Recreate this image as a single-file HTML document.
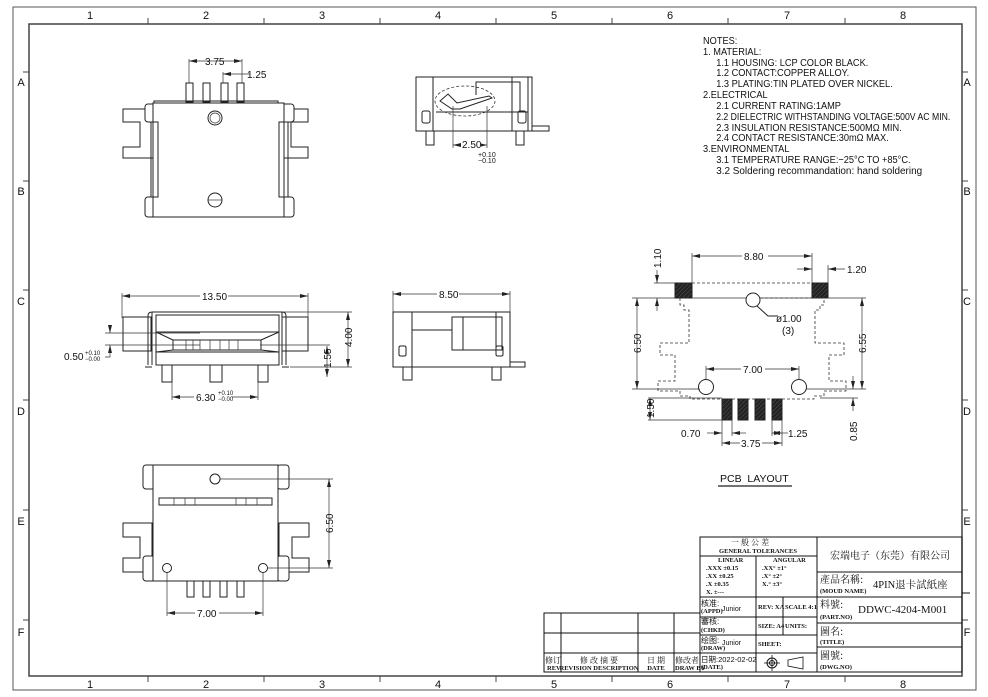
<!DOCTYPE html>
<html><head><meta charset="utf-8"><style>
html,body{margin:0;padding:0;background:#fff}
svg{display:block}
text{font-family:"Liberation Sans","Noto Sans CJK SC",sans-serif;fill:#111}
.s{fill:none;stroke:#222;stroke-width:1}
.t{fill:none;stroke:#333;stroke-width:0.7}
.d{fill:none;stroke:#333;stroke-width:0.8;stroke-dasharray:3 2}
.b{fill:#fff;stroke:#222;stroke-width:1}
.dim{font-size:10px}
.tb{font-family:"Liberation Serif","Noto Serif CJK SC",serif;font-weight:bold;font-size:6.5px}
</style></head><body>
<svg width="988" height="697" viewBox="0 0 988 697" xmlns="http://www.w3.org/2000/svg">
<defs>
<marker id="a" markerWidth="8" markerHeight="6" refX="8" refY="3" orient="auto-start-reverse" markerUnits="userSpaceOnUse"><path d="M0,1 L8,3 L0,5z" fill="#222"/></marker>
<pattern id="h" width="3" height="3" patternUnits="userSpaceOnUse" patternTransform="rotate(45)"><rect width="3" height="3" fill="#222"/><line x1="0" y1="0" x2="0" y2="3" stroke="#555" stroke-width="1"/></pattern>
</defs>
<!-- frames -->
<rect x="13" y="7" width="963" height="683" fill="none" stroke="#555" stroke-width="1"/>
<rect x="29" y="24" width="933" height="652" fill="none" stroke="#444" stroke-width="1.5"/>
<g stroke="#444" stroke-width="1">
<line x1="148" y1="18" x2="148" y2="24"/><line x1="264" y1="18" x2="264" y2="24"/><line x1="380" y1="18" x2="380" y2="24"/><line x1="496" y1="18" x2="496" y2="24"/><line x1="612" y1="18" x2="612" y2="24"/><line x1="728" y1="18" x2="728" y2="24"/><line x1="845" y1="18" x2="845" y2="24"/>
<line x1="148" y1="676" x2="148" y2="682"/><line x1="264" y1="676" x2="264" y2="682"/><line x1="380" y1="676" x2="380" y2="682"/><line x1="496" y1="676" x2="496" y2="682"/><line x1="612" y1="676" x2="612" y2="682"/><line x1="728" y1="676" x2="728" y2="682"/><line x1="845" y1="676" x2="845" y2="682"/>
<line x1="23" y1="72" x2="29" y2="72"/><line x1="23" y1="181" x2="29" y2="181"/><line x1="23" y1="290" x2="29" y2="290"/><line x1="23" y1="400" x2="29" y2="400"/><line x1="23" y1="510" x2="29" y2="510"/><line x1="23" y1="620" x2="29" y2="620"/>
<line x1="962" y1="72" x2="968" y2="72"/><line x1="962" y1="181" x2="968" y2="181"/><line x1="962" y1="290" x2="968" y2="290"/><line x1="962" y1="400" x2="968" y2="400"/><line x1="962" y1="510" x2="968" y2="510"/><line x1="962" y1="620" x2="968" y2="620"/>
</g>
<g font-size="11" text-anchor="middle" style="font-family:'Liberation Serif',serif">
<text x="90" y="19">1</text><text x="206" y="19">2</text><text x="322" y="19">3</text><text x="438" y="19">4</text><text x="554" y="19">5</text><text x="670" y="19">6</text><text x="787" y="19">7</text><text x="903" y="19">8</text>
<text x="90" y="688">1</text><text x="206" y="688">2</text><text x="322" y="688">3</text><text x="438" y="688">4</text><text x="554" y="688">5</text><text x="670" y="688">6</text><text x="787" y="688">7</text><text x="903" y="688">8</text>
<text x="21" y="86">A</text><text x="21" y="195">B</text><text x="21" y="305">C</text><text x="21" y="415">D</text><text x="21" y="525">E</text><text x="21" y="636">F</text>
<text x="967" y="86">A</text><text x="967" y="195">B</text><text x="967" y="305">C</text><text x="967" y="415">D</text><text x="967" y="525">E</text><text x="967" y="636">F</text>
</g>

<!-- View 1 top-left -->
<g>
<rect class="s" x="186" y="83" width="7" height="19"/><rect class="s" x="203" y="83" width="7" height="19"/><rect class="s" x="221" y="83" width="7" height="19"/><rect class="s" x="237" y="83" width="7" height="19"/>
<rect class="s" x="154" y="101" width="124" height="3"/>
<polygon class="s" points="158,109 123,109 123,122 140,122 140,147 123,147 123,158 158,158"/>
<polygon class="s" points="282,109 308,109 308,122 291,122 291,147 308,147 308,158 282,158"/>
<rect class="b" x="145" y="104" width="13" height="18" rx="3"/><rect class="b" x="145" y="197" width="13" height="20" rx="3"/>
<rect class="b" x="281" y="104" width="13" height="18" rx="3"/><rect class="b" x="281" y="197" width="13" height="20" rx="3"/>
<path class="s" d="M151,122 V197 M288,122 V197"/>
<rect class="b" x="153" y="103" width="131" height="114"/>
<path class="s" d="M153,122 H158 V197 H153 M284,122 H279 V197 H284"/>
<circle class="s" cx="215" cy="118" r="7" stroke-width="2"/><circle class="t" cx="215" cy="118" r="5"/>
<circle class="s" cx="215" cy="200" r="7"/><line class="t" x1="208" y1="200" x2="222" y2="200"/>
<path class="t" d="M189,83 V59 M242,83 V59 M223,83 V72"/>
<line class="t" x1="189" y1="61" x2="242" y2="61" marker-start="url(#a)" marker-end="url(#a)"/>
<line class="t" x1="223" y1="74" x2="250" y2="74" marker-start="url(#a)"/>
<text class="dim" x="205" y="65">3.75</text><text class="dim" x="247" y="78">1.25</text>
</g>

<!-- View 2 top-right -->
<g>
<rect class="s" x="416" y="77" width="116" height="54"/>
<path class="s" d="M433,77 V131 M512,77 V131 M528,77 V131 M532,126 H549 V131 H532"/>
<path class="s" d="M476,95 V82 H512 M476,82 H520 V112 M436,112 H528"/>
<rect class="s" x="422" y="111" width="8" height="12" rx="2"/><rect class="s" x="518" y="111" width="8" height="12" rx="2"/>
<ellipse class="d" cx="465" cy="101" rx="30" ry="15"/>
<path class="s" d="M440,101 L448,94 L457,103 L489,96 L492,98 L460,109 L452,109 Z"/>
<rect class="s" x="426" y="131" width="8" height="14"/><rect class="s" x="516" y="131" width="8" height="14"/>
<path class="t" d="M453,106 V148 M487,106 V148"/>
<line class="t" x1="453" y1="145" x2="487" y2="145" marker-start="url(#a)" marker-end="url(#a)"/>
<rect x="461" y="139" width="20" height="10" fill="#fff"/>
<text class="dim" x="462" y="148">2.50</text>
<text x="478" y="157" font-size="7">+0.10</text><text x="478" y="163" font-size="7">−0.10</text>
</g>

<!-- Notes -->
<g font-size="10.5" transform="translate(703,0) scale(0.88,1)">
<text x="0" y="44">NOTES:</text>
<text x="0" y="55">1. MATERIAL:</text>
<text x="15" y="66">1.1 HOUSING: LCP COLOR BLACK.</text>
<text x="15" y="76">1.2 CONTACT:COPPER ALLOY.</text>
<text x="15" y="87">1.3 PLATING:TIN PLATED OVER NICKEL.</text>
<text x="0" y="98">2.ELECTRICAL</text>
<text x="15" y="109">2.1 CURRENT RATING:1AMP</text>
<text x="15" y="120" textLength="266" lengthAdjust="spacingAndGlyphs">2.2 DIELECTRIC WITHSTANDING VOLTAGE:500V AC MIN.</text>
<text x="15" y="131">2.3 INSULATION RESISTANCE:500MΩ MIN.</text>
<text x="15" y="141">2.4 CONTACT RESISTANCE:30mΩ MAX.</text>
<text x="0" y="152">3.ENVIRONMENTAL</text>
<text x="15" y="163">3.1 TEMPERATURE RANGE:−25°C TO +85°C.</text>
<text x="15" y="174" textLength="234" lengthAdjust="spacingAndGlyphs">3.2 Soldering recommandation: hand soldering</text>
</g>

<!-- View 3 mid-left -->
<g>
<rect class="s" x="123" y="317" width="28" height="34"/><rect class="s" x="282" y="317" width="26" height="34"/>
<path class="s" d="M152,365 V312 H282 V365 M148,365 V316 Q148,312 152,312 M286,365 V316 Q286,312 282,312"/>
<path class="s" d="M145,367 H152 M282,367 H289"/>
<rect class="s" x="156" y="315" width="123" height="50"/>
<path class="s" d="M156,332 H279 M173,340 H261 M173,350 H261 M156,352 H279 M156,332 L173,340 M279,332 L261,340 M156,352 L173,350 M279,352 L261,350 M173,340 V350 M261,340 V350"/>
<path class="t" d="M186,340 V350 M193,340 V350 M200,340 V350 M210,340 V350 M220,340 V350 M229,340 V350 M238,340 V350"/>
<rect class="s" x="162" y="365" width="10" height="17"/><rect class="s" x="210" y="365" width="12" height="17"/><rect class="s" x="258" y="365" width="10" height="17"/>
<path class="t" d="M122,318 V293 M308,318 V293"/>
<line class="t" x1="122" y1="296" x2="308" y2="296" marker-start="url(#a)" marker-end="url(#a)"/>
<rect x="200" y="290" width="28" height="10" fill="#fff"/><text class="dim" x="202" y="300">13.50</text>
<path class="t" d="M172,382 V400 M258,382 V400"/>
<line class="t" x1="172" y1="397" x2="258" y2="397" marker-start="url(#a)" marker-end="url(#a)"/>
<rect x="194" y="391" width="38" height="10" fill="#fff"/><text class="dim" x="196" y="401">6.30</text>
<text x="218" y="395" font-size="6">+0.10</text><text x="218" y="401" font-size="6">−0.00</text>
<path class="t" d="M282,312 H352 M290,367 H352 M260,345 H330"/>
<line class="t" x1="348" y1="312" x2="348" y2="367" marker-start="url(#a)" marker-end="url(#a)"/>
<text class="dim" transform="translate(352,347) rotate(-90)">4.00</text>
<line class="t" x1="327" y1="346" x2="327" y2="377" marker-start="url(#a)" marker-end="url(#a)"/>
<text class="dim" transform="translate(331,368) rotate(-90)">1.55</text>
<path class="t" d="M105,333 H200 M105,345 H200"/>
<line class="t" x1="110" y1="328" x2="110" y2="333" marker-end="url(#a)"/><line class="t" x1="110" y1="350" x2="110" y2="345" marker-end="url(#a)"/>
<path class="t" d="M110,350 V357 H105"/>
<text class="dim" x="64" y="360">0.50</text><text x="85" y="355" font-size="6">+0.10</text><text x="85" y="361" font-size="6">−0.00</text>
</g>

<!-- View 4 mid-right -->
<g>
<rect class="s" x="393" y="312" width="117" height="55"/>
<path class="s" d="M412,312 V367 M510,362 H525 V367 H510 M412,330 H452 M452,317 H502 V350 H452 Z M463,317 V350 M496,312 V352"/>
<rect class="s" x="399" y="346" width="7" height="10" rx="1.5"/><rect class="s" x="496" y="346" width="7" height="10" rx="1.5"/>
<rect class="s" x="403" y="367" width="9" height="13"/><rect class="s" x="492" y="367" width="9" height="13"/>
<path class="t" d="M393,312 V291 M510,312 V291"/>
<line class="t" x1="393" y1="294" x2="510" y2="294" marker-start="url(#a)" marker-end="url(#a)"/>
<rect x="437" y="288" width="22" height="10" fill="#fff"/><text class="dim" x="439" y="298">8.50</text>
</g>

<!-- View 5 bottom-left -->
<g>
<polygon class="s" points="152,523 123,523 123,537 140,537 140,558 123,558 123,572 152,572"/>
<polygon class="s" points="279,523 309,523 309,537 292,537 292,558 309,558 309,572 279,572"/>
<rect class="b" x="143" y="465" width="12" height="24" rx="3"/><rect class="b" x="143" y="556" width="12" height="25" rx="3"/>
<rect class="b" x="277" y="465" width="12" height="24" rx="3"/><rect class="b" x="277" y="556" width="12" height="25" rx="3"/>
<rect class="b" x="153" y="465" width="125" height="116"/>
<rect class="s" x="159" y="498" width="113" height="7"/>
<path class="t" d="M174,498 V505 M185,498 V505 M195,498 V505 M236,498 V505 M246,498 V505 M257,498 V505"/>
<circle class="s" cx="215" cy="479" r="5" stroke-width="1.5"/><circle class="s" cx="167" cy="568" r="4.5" stroke-width="1.5"/><circle class="s" cx="263" cy="568" r="4.5" stroke-width="1.5"/>
<rect class="s" x="187" y="581" width="7" height="16"/><rect class="s" x="203" y="581" width="7" height="16"/><rect class="s" x="220" y="581" width="7" height="16"/><rect class="s" x="237" y="581" width="7" height="16"/>
<path class="t" d="M220,479 H333 M267,568 H333 M167,572 V616 M263,572 V616"/>
<line class="t" x1="329" y1="479" x2="329" y2="568" marker-start="url(#a)" marker-end="url(#a)"/>
<text class="dim" transform="translate(333,533) rotate(-90)">6.50</text>
<line class="t" x1="167" y1="613" x2="263" y2="613" marker-start="url(#a)" marker-end="url(#a)"/>
<rect x="195" y="607" width="24" height="10" fill="#fff"/><text class="dim" x="197" y="617">7.00</text>
</g>

<!-- PCB layout -->
<g>
<rect x="675" y="283" width="17" height="15" fill="url(#h)" stroke="#222"/>
<rect x="812" y="283" width="16" height="15" fill="url(#h)" stroke="#222"/>
<line class="d" x1="692" y1="283" x2="812" y2="283"/>
<line class="t" x1="692" y1="298" x2="746" y2="298"/><line class="d" x1="760" y1="298" x2="812" y2="298"/>
<circle class="s" cx="753" cy="300" r="7"/>
<path class="s" d="M757,306 L768,316 H778" />
<text class="dim" x="776" y="322">ø1.00</text><text class="dim" x="782" y="334">(3)</text>
<path class="d" d="M680,298 V305 H684 V310 H689 V343 H660 V355 H675 V381 H658 V391 H680 V396 H690 V399 H814 V396 H824 V391 H846 V381 H829 V355 H844 V343 H815 V310 H820 V305 H824 V298"/>
<circle class="b" cx="706" cy="387" r="7.5"/><circle class="b" cx="799" cy="387" r="7.5"/>
<rect x="722" y="399" width="10" height="21" fill="url(#h)" stroke="#222"/>
<rect x="738" y="399" width="10" height="21" fill="url(#h)" stroke="#222"/>
<rect x="755" y="399" width="10" height="21" fill="url(#h)" stroke="#222"/>
<rect x="772" y="399" width="10" height="21" fill="url(#h)" stroke="#222"/>
<path class="t" d="M692,283 V253 M812,283 V253 M828,283 V265 M812,265 V270"/>
<line class="t" x1="692" y1="256" x2="812" y2="256" marker-start="url(#a)" marker-end="url(#a)"/>
<rect x="742" y="250" width="26" height="10" fill="#fff"/><text class="dim" x="744" y="260">8.80</text>
<line class="t" x1="797" y1="269" x2="812" y2="269" marker-end="url(#a)"/><line class="t" x1="845" y1="269" x2="828" y2="269" marker-end="url(#a)"/>
<text class="dim" x="847" y="273">1.20</text>
<path class="t" d="M654,283 H675 M632,298 H675 M632,389 H700 M648,398 H722 M648,420 H722 M760,298 H866 M806,389 H866 M820,398 H858"/>
<line class="t" x1="657" y1="270" x2="657" y2="283" marker-end="url(#a)"/><line class="t" x1="657" y1="311" x2="657" y2="298" marker-end="url(#a)"/>
<text class="dim" transform="translate(661,268) rotate(-90)">1.10</text>
<line class="t" x1="637" y1="298" x2="637" y2="389" marker-start="url(#a)" marker-end="url(#a)"/>
<text class="dim" transform="translate(641,353) rotate(-90)">6.50</text>
<line class="t" x1="862" y1="298" x2="862" y2="389" marker-start="url(#a)" marker-end="url(#a)"/>
<text class="dim" transform="translate(866,353) rotate(-90)">6.55</text>
<line class="t" x1="650" y1="398" x2="650" y2="420" marker-start="url(#a)" marker-end="url(#a)"/>
<text class="dim" transform="translate(654,418) rotate(-90)">1.50</text>
<line class="t" x1="853" y1="376" x2="853" y2="389" marker-end="url(#a)"/><line class="t" x1="853" y1="411" x2="853" y2="398" marker-end="url(#a)"/>
<text class="dim" transform="translate(857,441) rotate(-90)">0.85</text>
<path class="t" d="M706,380 V366 M799,380 V366"/>
<line class="t" x1="706" y1="369" x2="799" y2="369" marker-start="url(#a)" marker-end="url(#a)"/>
<rect x="741" y="363" width="24" height="10" fill="#fff"/><text class="dim" x="743" y="373">7.00</text>
<path class="t" d="M722,420 V446 M732,420 V436 M772,420 V436 M782,420 V446"/>
<line class="t" x1="707" y1="433" x2="722" y2="433" marker-end="url(#a)"/><line class="t" x1="746" y1="433" x2="732" y2="433" marker-end="url(#a)"/>
<text class="dim" x="681" y="437">0.70</text>
<line class="t" x1="772" y1="433" x2="782" y2="433" marker-start="url(#a)" marker-end="url(#a)"/>
<line class="t" x1="782" y1="433" x2="788" y2="433"/><text class="dim" x="788" y="437">1.25</text>
<line class="t" x1="722" y1="443" x2="782" y2="443" marker-start="url(#a)" marker-end="url(#a)"/>
<rect x="740" y="438" width="22" height="10" fill="#fff"/><text class="dim" x="741" y="447">3.75</text>
<text x="720" y="482" font-size="10.5">PCB&#160;&#160;LAYOUT</text>
<line x1="718" y1="486" x2="792" y2="486" stroke="#222" stroke-width="1.2"/>
</g>

<!-- Title block -->
<g stroke="#111" stroke-width="1" fill="none">
<rect x="700" y="537" width="262" height="135"/>
<line x1="817" y1="537" x2="817" y2="672"/>
<line x1="817" y1="572" x2="962" y2="572"/><line x1="817" y1="597" x2="962" y2="597"/><line x1="817" y1="623" x2="962" y2="623"/><line x1="817" y1="647" x2="962" y2="647"/>
<line x1="700" y1="556" x2="817" y2="556"/><line x1="756" y1="556" x2="756" y2="597"/>
<line x1="700" y1="597" x2="817" y2="597"/><line x1="700" y1="617" x2="817" y2="617"/><line x1="700" y1="635" x2="756" y2="635"/><line x1="756" y1="653" x2="817" y2="653"/><line x1="700" y1="653" x2="756" y2="653"/>
<line x1="756" y1="597" x2="756" y2="672"/><line x1="783" y1="597" x2="783" y2="635"/>
<line x1="756" y1="635" x2="817" y2="635"/>
<rect x="544" y="613" width="156" height="59"/>
<line x1="544" y1="633" x2="700" y2="633"/><line x1="544" y1="653" x2="700" y2="653"/>
<line x1="561" y1="613" x2="561" y2="672"/><line x1="638" y1="613" x2="638" y2="672"/><line x1="674" y1="613" x2="674" y2="672"/>
<line x1="962" y1="593" x2="970" y2="593"/>
</g>
<g>
<text x="750" y="545" font-size="8" text-anchor="middle" style="font-family:'Noto Serif CJK SC',serif">一 般 公 差</text>
<text class="tb" x="758" y="553" text-anchor="middle">GENERAL TOLERANCES</text>
<text class="tb" x="718" y="562">LINEAR</text><text class="tb" x="773" y="562">ANGULAR</text>
<text class="tb" x="706" y="570">.XXX   ±0.15</text><text class="tb" x="706" y="578">.XX     ±0.25</text><text class="tb" x="706" y="586">.X       ±0.35</text><text class="tb" x="706" y="594">X.       ±---</text>
<text class="tb" x="762" y="570">.XX°   ±1°</text><text class="tb" x="762" y="578">.X°     ±2°</text><text class="tb" x="762" y="586">X.°     ±3°</text>
<text x="701" y="606" font-size="8" fill="#333">核准:</text><text class="tb" x="701" y="613" font-size="5.5">(APPD)</text><text x="722" y="611" font-size="7" fill="#c60">Junior</text>
<text x="701" y="624" font-size="8" fill="#333">審核:</text><text class="tb" x="701" y="632" font-size="5.5">(CHKD)</text>
<text x="701" y="643" font-size="8" fill="#333">绘图:</text><text class="tb" x="701" y="650" font-size="5.5">(DRAW)</text><text x="722" y="645" font-size="7" fill="#c60">Junior</text>
<text x="701" y="662" font-size="7.5" fill="#333">日期:2022-02-02</text><text class="tb" x="701" y="669" font-size="5.5">(DATE)</text>
<text class="tb" x="758" y="609" font-size="5.5">REV: XA</text><text class="tb" x="785" y="609" font-size="5.5">SCALE 4:1</text>
<text class="tb" x="758" y="628" font-size="5.5">SIZE: A4</text><text class="tb" x="785" y="628" font-size="5.5">UNITS:</text>
<text class="tb" x="758" y="646" font-size="5.5">SHEET:</text>
<circle cx="772" cy="663" r="5" fill="none" stroke="#111"/><circle cx="772" cy="663" r="2.5" fill="none" stroke="#111"/>
<path d="M764,663 H780 M772,655 V671 M788,660 L803,657 V669 L788,666 Z" fill="none" stroke="#111" stroke-width="0.8"/>
<text x="890" y="559" font-size="10" text-anchor="middle" style="font-family:'Noto Serif CJK SC',serif">宏端电子（东莞）有限公司</text>
<text x="820" y="583" font-size="10" style="font-family:'Noto Serif CJK SC',serif">產品名稱:</text><text class="tb" x="820" y="593" font-size="5.5">(MOUD NAME)</text>
<text x="873" y="588" font-size="10.5" style="font-family:'Liberation Serif','Noto Serif CJK SC',serif">4PIN退卡試紙座</text>
<text x="820" y="608" font-size="10" style="font-family:'Noto Serif CJK SC',serif">料號:</text><text class="tb" x="820" y="619" font-size="5.5">(PART.NO)</text>
<text x="858" y="613" font-size="11" style="font-family:'Liberation Serif',serif">DDWC-4204-M001</text>
<text x="820" y="635" font-size="10" style="font-family:'Noto Serif CJK SC',serif">圖名:</text><text class="tb" x="820" y="644" font-size="5.5">(TITLE)</text>
<text x="820" y="659" font-size="10" style="font-family:'Noto Serif CJK SC',serif">圖號:</text><text class="tb" x="820" y="669" font-size="5.5">(DWG.NO)</text>
<text x="545" y="663" font-size="8" style="font-family:'Noto Serif CJK SC',serif">修订</text><text class="tb" x="547" y="670" font-size="5">REV</text>
<text x="599" y="663" font-size="8" text-anchor="middle" style="font-family:'Noto Serif CJK SC',serif">修 改 摘 要</text><text class="tb" x="599" y="670" text-anchor="middle" font-size="5">REVISION DESCRIPTION</text>
<text x="656" y="663" font-size="8" text-anchor="middle" style="font-family:'Noto Serif CJK SC',serif">日 期</text><text class="tb" x="656" y="670" text-anchor="middle" font-size="5">DATE</text>
<text x="675" y="663" font-size="8" style="font-family:'Noto Serif CJK SC',serif">修改者</text><text class="tb" x="675" y="670" font-size="5">DRAW BY</text>
</g>
</svg>
</body></html>
